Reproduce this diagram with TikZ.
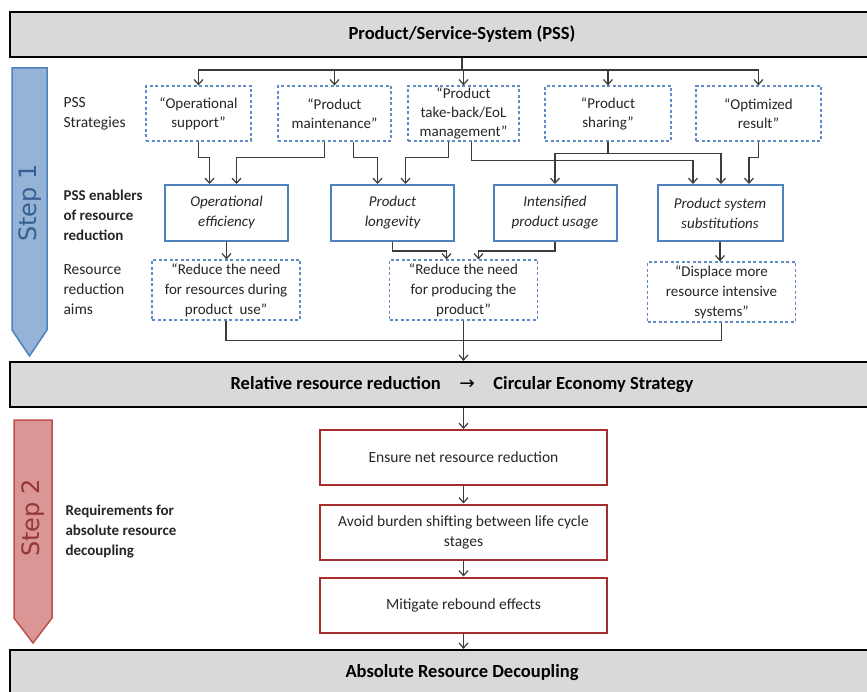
\documentclass[tikz,border=0pt]{standalone}
\usepackage{fontspec}
\setmainfont{Carlito}
\newfontfamily\stepfont{DejaVu Sans}
\usepackage{tikz}
\usetikzlibrary{arrows.meta, positioning, calc}
\usepackage{xcolor}
\definecolor{pssblue}{RGB}{79,129,189}
\definecolor{dashblue}{RGB}{96,139,198}
\definecolor{steponefill}{RGB}{149,179,215}
\definecolor{steponetext}{RGB}{54,96,146}
\definecolor{steptwofill}{RGB}{217,150,148}
\definecolor{steptwodraw}{RGB}{192,80,77}
\definecolor{steptwotext}{RGB}{149,55,53}
\definecolor{reqred}{RGB}{165,45,45}
\definecolor{barfill}{RGB}{217,217,217}
\definecolor{connclr}{RGB}{60,60,60}

\begin{document}
\begin{tikzpicture}[x=1pt, y=-1pt,
  every node/.style={font=\fontsize{15}{19}\selectfont, text=black!85},
  bar/.style={draw=black, line width=2.2pt, fill=barfill, minimum width=904,
    minimum height=45, text=black, font=\fontsize{18.5}{22}\selectfont\bfseries},
  stratbox/.style={draw=dashblue, line width=1.2pt, dash pattern=on 3pt off 2.5pt,
    minimum width=#1, minimum height=55, inner sep=0pt, align=center},
  enabler/.style={draw=pssblue, line width=2pt, minimum width=123, minimum height=56,
    align=center, font=\fontsize{15}{20}\selectfont\itshape},
  aimbox/.style={draw=dashblue, line width=1.2pt, dash pattern=on 3pt off 2.5pt,
    minimum width=148, minimum height=60, inner sep=0pt, align=center,
    font=\fontsize{15}{20}\selectfont},
  reqbox/.style={draw=reqred, line width=2pt, minimum width=287, minimum height=55,
    align=center, font=\fontsize{15.5}{20}\selectfont},
  lbl/.style={anchor=west, align=left, font=\fontsize{15.5}{20}\selectfont},
  conn/.style={draw=connclr, line width=1.2pt},
  arr/.style={conn, -{Straight Barb[length=5pt, width=9pt]}}]

  \clip (0,0) rectangle (867,692);
  \fill[white] (0,0) rectangle (867,692);

  % Bars
  \node[bar] (pss) at (462,34.5) {Product/Service-System (PSS)};
  \node[bar] (rel) at (462,384.5) {Relative resource reduction\quad{\stepfont\mdseries →}\quad Circular Economy Strategy};
  \node[bar, minimum height=46] (abs) at (462,673) {Absolute Resource Decoupling};

  % Step arrows
  \filldraw[fill=steponefill, draw=pssblue, line width=1.5pt]
    (12,68) -- (47,68) -- (47,330) -- (29.5,356) -- (12,330) -- cycle;
  \node[rotate=90, font=\stepfont\fontsize{24}{24}\selectfont, text=steponetext] (st1) at (30,203) {Step 1};
  \filldraw[fill=steptwofill, draw=steptwodraw, line width=1.5pt]
    (14,420) -- (52,420) -- (52,618) -- (33,643) -- (14,618) -- cycle;
  \node[rotate=90, font=\stepfont\fontsize{24}{24}\selectfont, text=steptwotext] (st2) at (33,518) {Step 2};

  % Row labels
  \node[lbl] (lstrat) at (60,113.5) {PSS\\Strategies};
  \node[lbl, font=\fontsize{15}{20}\selectfont\bfseries] (lenab) at (60,215) {PSS enablers\\of resource\\reduction};
  \node[lbl] (laim) at (60,290) {Resource\\reduction\\aims};
  \node[lbl, font=\fontsize{15}{20}\selectfont\bfseries] (lreq) at (62,532) {Requirements for\\absolute resource\\decoupling};

  % PSS strategies
  \node[stratbox=105] (s1) at (198.5,113.5) {“Operational\\support”};
  \node[stratbox=113] (s2) at (334.5,113.5) {“Product\\maintenance”};
  \node[stratbox=111] (s3) at (463.5,113.5) {“Product\\take-back/EoL\\management”};
  \node[stratbox=126] (s4) at (608,113.5) {“Product\\sharing”};
  \node[stratbox=125] (s5) at (758.5,113.5) {“Optimized\\result”};

  % Enablers
  \node[enabler] (e1) at (226.5,213) {Operational\\efficiency};
  \node[enabler] (e2) at (392.5,213) {Product\\longevity};
  \node[enabler] (e3) at (555,213) {Intensified\\product usage};
  \node[enabler, minimum width=125] (e4) at (720,213) {Product system\\substitutions};

  % Resource reduction aims
  \node[aimbox] (a1) at (226,290) {“Reduce the need\\for resources during\\product\ \ use”};
  \node[aimbox] (a2) at (463.5,290) {“Reduce the need\\for producing the\\product”};
  \node[aimbox] (a3) at (721.5,292) {“Displace more\\resource intensive\\systems”};

  % Requirements
  \node[reqbox] (r1) at (463.5,457.5) {Ensure net resource reduction};
  \node[reqbox] (r2) at (463.5,532) {Avoid burden shifting between life cycle\\stages};
  \node[reqbox] (r3) at (463.5,605) {Mitigate rebound effects};

  % PSS to strategies
  \coordinate (split) at (462,70);
  \draw[conn] (pss.south) -- (split);
  \foreach \s in {s1,s2,s3,s4,s5} {
    \draw[arr] (split) -| (\s.north);
  }

  % Strategies to enablers
  \draw[arr] (s1.south) -- ++(0,16) -| ($(e1.north)+(-17,0)$);
  \draw[arr] ($(s2.south)+(-10,0)$) -- ++(0,16) -| ($(e1.north)+(10,0)$);
  \draw[arr] ($(s2.south)+(19,0)$) -- ++(0,16) -| ($(e2.north)+(-15,0)$);
  \draw[arr] ($(s3.south)+(-15,0)$) -- ++(0,16) -| ($(e2.north)+(13,0)$);
  \draw[arr] ($(s3.south)+(8,0)$) -- ++(0,19) -| ($(e4.north)+(-27,0)$);
  \draw[arr] (s4.south) -- ++(0,12) -| (e3.north);
  \draw[arr] (s4.south) -- ++(0,12) -| ($(e4.north)+(1,0)$);
  \draw[arr] (s5.south) -- ++(0,16) -| ($(e4.north)+(29,0)$);

  % Enablers to aims
  \draw[arr] (e1.south) -- (e1.south |- a1.north);
  \draw[arr] (e2.south) -- ++(0,9) -| ($(a2.north)+(-17,0)$);
  \draw[arr] (e3.south) -- ++(0,9) -| ($(a2.north)+(15,0)$);
  \draw[arr] (e4.south) -- (e4.south |- a3.north);

  % Aims to relative reduction
  \draw[conn] (a1.south) -- ++(0,20) -| (a3.south);
  \draw[arr] (a2.south) -- (a2.south |- rel.north);

  % Requirements chain
  \draw[arr] (r1.north |- rel.south) -- (r1.north);
  \draw[arr] (r1.south) -- (r2.north);
  \draw[arr] (r2.south) -- (r3.north);
  \draw[arr] (r3.south) -- (r3.south |- abs.north);
\end{tikzpicture}
\end{document}
